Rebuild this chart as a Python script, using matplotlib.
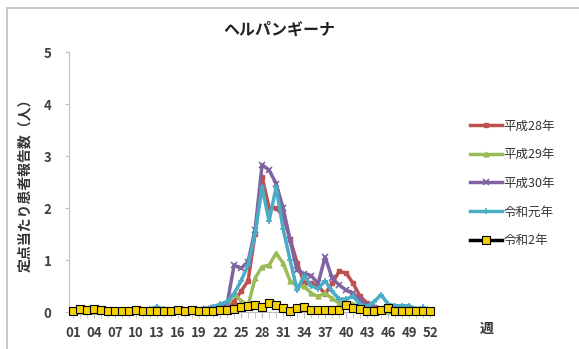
import matplotlib.pyplot as plt
from matplotlib.lines import Line2D

plt.rcParams['font.family'] = ['Noto Sans CJK JP', 'DejaVu Sans']

weeks = list(range(1, 53))

h28 = [0.02, 0.02, 0.02, 0.02, 0.02, 0.02, 0.02, 0.02, 0.02, 0.02,
       0.02, 0.03, 0.03, 0.03, 0.03, 0.03, 0.03, 0.03, 0.03, 0.04,
       0.05, 0.05, 0.1, 0.2, 0.4, 0.6, 1.5, 2.6, 2.0, 2.0,
       1.85, 1.4, 0.95, 0.55, 0.55, 0.5, 0.35, 0.55, 0.78, 0.75,
       0.55, 0.3, 0.17, 0.1, 0.06, 0.05, 0.04, 0.03, 0.03, 0.03,
       0.03, 0.02]
h29 = [0.01, 0.01, 0.01, 0.01, 0.01, 0.01, 0.01, 0.01, 0.01, 0.01,
       0.01, 0.01, 0.01, 0.01, 0.01, 0.01, 0.02, 0.02, 0.02, 0.02,
       0.03, 0.05, 0.1, 0.35, 0.22, 0.12, 0.65, 0.87, 0.9, 1.13,
       0.94, 0.6, 0.5, 0.5, 0.36, 0.3, 0.36, 0.26, 0.17, 0.2,
       0.15, 0.1, 0.05, 0.03, 0.02, 0.02, 0.02, 0.02, 0.02, 0.02,
       0.02, 0.02]
h30 = [0.01, 0.01, 0.01, 0.01, 0.01, 0.01, 0.01, 0.01, 0.01, 0.01,
       0.01, 0.01, 0.02, 0.02, 0.02, 0.02, 0.02, 0.02, 0.03, 0.05,
       0.08, 0.1, 0.15, 0.9, 0.84, 0.97, 1.58, 2.83, 2.73, 2.47,
       2.0, 1.38, 0.8, 0.74, 0.7, 0.55, 1.06, 0.65, 0.52, 0.42,
       0.36, 0.23, 0.13, 0.08, 0.05, 0.03, 0.03, 0.03, 0.03, 0.03,
       0.03, 0.03]
r1 = [0.01, 0.01, 0.01, 0.01, 0.01, 0.01, 0.01, 0.01, 0.02, 0.02,
      0.04, 0.06, 0.1, 0.05, 0.03, 0.06, 0.03, 0.03, 0.04, 0.06,
      0.1, 0.15, 0.2, 0.35, 0.6, 0.9, 1.5, 2.4, 1.75, 2.4,
      1.6, 1.0, 0.42, 0.7, 0.5, 0.45, 0.6, 0.4, 0.25, 0.25,
      0.3, 0.15, 0.1, 0.2, 0.33, 0.15, 0.12, 0.12, 0.12, 0.06,
      0.09, 0.02]
r2 = [0.02, 0.05, 0.03, 0.05, 0.03, 0.02, 0.02, 0.02, 0.02, 0.03,
      0.02, 0.02, 0.02, 0.02, 0.02, 0.03, 0.02, 0.03, 0.02, 0.02,
      0.02, 0.04, 0.04, 0.05, 0.1, 0.12, 0.13, 0.1, 0.18, 0.13,
      0.07, 0.01, 0.07, 0.1, 0.04, 0.03, 0.03, 0.03, 0.04, 0.13,
      0.07, 0.05, 0.02, 0.02, 0.03, 0.07, 0.02, 0.02, 0.02, 0.02,
      0.02, 0.02]

labels = ['平成28年', '平成29年', '平成30年', '令和元年', '令和2年']
colors = ['#C0504D', '#9BBB59', '#8064A2', '#4BACC6', '#000000']

fig = plt.figure(figsize=(5.79, 3.49), dpi=100)
ax = fig.add_axes([0.120, 0.106, 0.629, 0.745])

ax.plot(weeks, h28, color=colors[0], lw=2.5, marker='s', ms=3.5, label=labels[0], clip_on=False)
ax.plot(weeks, h29, color=colors[1], lw=2.5, marker='^', ms=3.5, label=labels[1], clip_on=False)
ax.plot(weeks, h30, color=colors[2], lw=2.5, marker='x', ms=4, mew=1.2, label=labels[2], clip_on=False)
ax.plot(weeks, r1, color=colors[3], lw=2.5, marker='+', ms=5, mew=1.2, label=labels[3], clip_on=False)
ax.plot(weeks, r2, color=colors[4], lw=2.5, marker='s', ms=5.5, mfc='#F5D000', mec='black', mew=0.8,
        label=labels[4], clip_on=False, zorder=5)

ax.set_xlim(0.5, 52.5)
ax.set_ylim(0, 5)
ax.set_yticks([0, 1, 2, 3, 4, 5])
ax.set_xticks(weeks[::3])
ax.set_xticklabels(['%02d' % w for w in weeks[::3]])
ax.set_xticks(weeks, minor=True)
ax.tick_params(axis='both', labelsize=9.5, colors='#404040', length=3, width=0.8)
ax.tick_params(axis='x', which='both', color='#BFBFBF', length=4, pad=6)
ax.tick_params(axis='y', color='#BFBFBF', pad=10)
for t in ax.get_xticklabels() + ax.get_yticklabels():
    t.set_fontweight('bold')

for s in ['top', 'right']:
    ax.spines[s].set_visible(False)
ax.spines['left'].set_color('#BFBFBF')
ax.spines['bottom'].set_color('#BFBFBF')

ax.set_ylabel('定点当たり患者報告数（人）', fontsize=10, fontweight='bold', color='#333333', labelpad=8)
fig.text(0.482, 0.915, 'ヘルパンギーナ', fontsize=11.5, fontweight='bold', color='#222222', ha='center', va='center')
fig.text(0.841, 0.058, '週', fontsize=10, fontweight='bold', color='#333333', ha='center', va='center')

fig.legend(loc='upper left', bbox_to_anchor=(0.792, 0.69), frameon=False, fontsize=9,
           handlelength=2.6, handletextpad=0.1, labelspacing=1.25, labelcolor='#333333')

# outer frame of the original picture
fig.add_artist(Line2D([0.012, 1.0], [0.977, 0.977], color='#BFBFBF', lw=1.2))
fig.add_artist(Line2D([0.012, 0.012], [0.0, 0.977], color='#BFBFBF', lw=1.2))

fig.savefig('out.png', dpi=100)
